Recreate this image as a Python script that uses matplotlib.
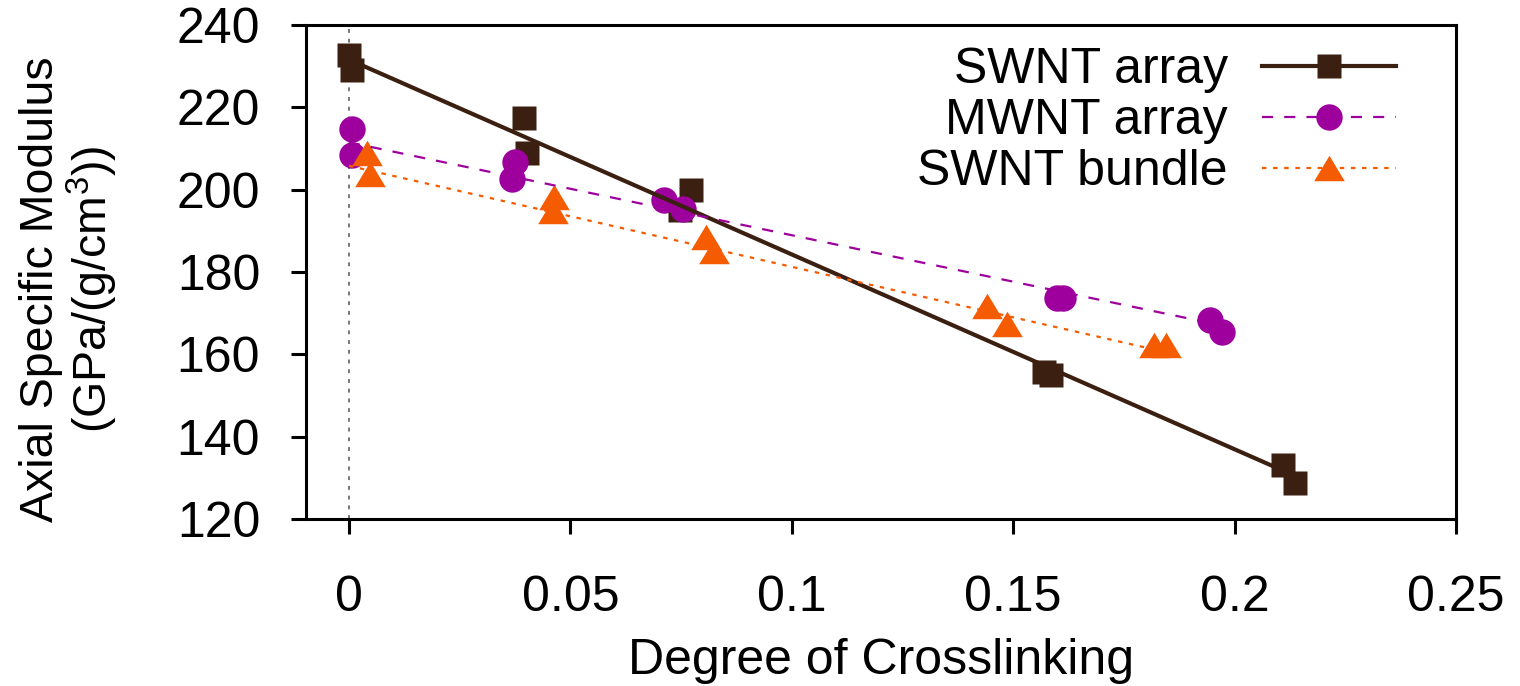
import matplotlib
matplotlib.use("Agg")
import matplotlib.pyplot as plt
from matplotlib.lines import Line2D
from matplotlib.path import Path

plt.rcParams['font.family'] = ['Liberation Sans', 'DejaVu Sans']
plt.rcParams['mathtext.fontset'] = 'custom'
plt.rcParams['mathtext.rm'] = 'Liberation Sans'
plt.rcParams['mathtext.it'] = 'Liberation Sans'

# ---------------- data ----------------
swnt_x = [0.0000, 0.0006, 0.0396, 0.0402, 0.0773, 0.0748, 0.1569, 0.1585, 0.2109, 0.2136]
swnt_y = [232.7, 229.1, 217.4, 208.9, 200.0, 195.1, 155.7, 155.0, 133.1, 128.7]

mwnt_x = [0.0006, 0.0006, 0.0374, 0.0369, 0.0711, 0.0755, 0.1600, 0.1613, 0.1945, 0.1972]
mwnt_y = [214.7, 208.5, 206.8, 202.5, 197.4, 195.2, 173.6, 173.6, 168.4, 165.4]

bundle_x = [0.0040, 0.0047, 0.0464, 0.0460, 0.0807, 0.0824, 0.1440, 0.1487, 0.1819, 0.1846]
bundle_y = [208.8, 203.8, 198.3, 194.9, 188.4, 185.2, 171.7, 167.3, 162.2, 162.3]

# linear fit lines (end points)
swnt_fit_x = [0.0, 0.2136]
swnt_fit_y = [231.6, 130.5]
mwnt_fit_x = [0.0, 0.1972]
mwnt_fit_y = [211.5, 167.0]
bundle_fit_x = [0.0, 0.1846]
bundle_fit_y = [205.8, 160.5]

labels = ["SWNT array", "MWNT array", "SWNT bundle"]
x_ticks = [0, 0.05, 0.1, 0.15, 0.2, 0.25]
x_ticklabels = ["0", "0.05", "0.1", "0.15", "0.2", "0.25"]
y_ticks = [120, 140, 160, 180, 200, 220, 240]

# ---------------- style ----------------
c_swnt = '#3b2011'
c_mwnt = '#9e009e'
c_bundle = '#f55b00'
FS = 36

tri = Path([(-0.6, -0.5), (0.6, -0.5), (0.0, 0.5), (-0.6, -0.5)],
           [Path.MOVETO, Path.LINETO, Path.LINETO, Path.CLOSEPOLY])

fig = plt.figure(figsize=(15.2, 6.86), dpi=100)
ax = fig.add_axes([306/1520, 1-519/686, (1456-306)/1520, (519-25)/686])

ax.axvline(0, color='#777777', lw=1.4, ls=(0, (2, 3)), zorder=1)

ax.plot(swnt_x, swnt_y, ls='none', marker='s', ms=17.3, color=c_swnt, mec='none', zorder=3)
ax.plot(mwnt_x, mwnt_y, ls='none', marker='o', ms=19, color=c_mwnt, mec='none', zorder=3)
ax.plot(bundle_x, bundle_y, ls='none', marker=tri, ms=22, color=c_bundle, mec='none', zorder=3)

ax.plot(swnt_fit_x, swnt_fit_y, color=c_swnt, lw=3.0, zorder=4)
ax.plot(mwnt_fit_x, mwnt_fit_y, color=c_mwnt, lw=1.6, ls=(0, (5, 5)), zorder=4)
ax.plot(bundle_fit_x, bundle_fit_y, color=c_bundle, lw=1.6, ls=(0, (2, 3)), zorder=4)

ax.set_xlim(-0.0097, 0.25)
ax.set_ylim(120, 240)
ax.set_xticks(x_ticks)
ax.set_xticklabels(x_ticklabels)
ax.set_yticks(y_ticks)

for s in ax.spines.values():
    s.set_linewidth(2.2)
ax.tick_params(axis='both', direction='out', length=11, width=2.2, labelsize=FS)
ax.tick_params(axis='x', pad=29)
ax.tick_params(axis='y', pad=22)

ax.set_xlabel("Degree of Crosslinking", fontsize=FS, labelpad=12.5)
ax.set_ylabel("Axial Specific Modulus\n(GPa/(g/cm$^3$))", fontsize=33.5, linespacing=1.05)
ax.yaxis.set_label_coords(-0.1617, 0.465)

handles = [
    Line2D([], [], color=c_swnt, lw=3.0, marker='s', ms=17.3, mec='none'),
    Line2D([], [], color=c_mwnt, lw=1.6, ls=(0, (5, 5)), marker='o', ms=19, mec='none'),
    Line2D([], [], color=c_bundle, lw=1.6, ls=(0, (2, 3)), marker=tri, ms=22, mec='none'),
]
ax.legend(handles, labels, loc='upper right', bbox_to_anchor=(0.9478, 0.955),
          frameon=False, markerfirst=False, fontsize=FS, numpoints=1,
          handlelength=2.68, handletextpad=0.68, labelspacing=0.1,
          borderpad=0, borderaxespad=0)

fig.savefig("out.png", dpi=100)
